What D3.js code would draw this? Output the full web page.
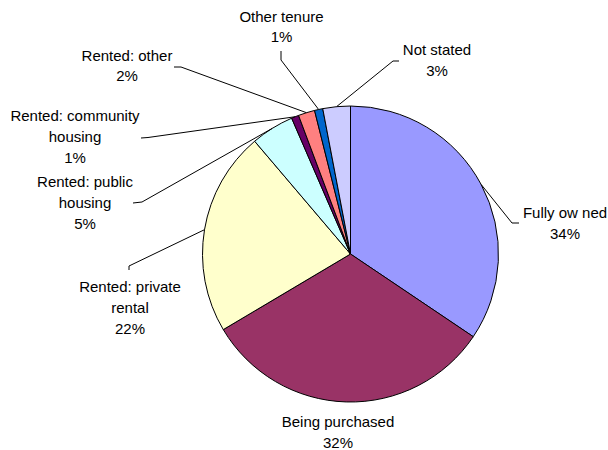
<!DOCTYPE html>
<html>
<head>
<meta charset="utf-8">
<script src="https://cdn.jsdelivr.net/npm/d3@7"></script>
<style>
  html, body { margin: 0; padding: 0; background: #fff; }
  svg { display: block; }
  text { font-family: "Liberation Sans", Arial, sans-serif; font-size: 15px; fill: #000; }
</style>
</head>
<body>
<svg id="chart" width="608" height="450"></svg>
<script>
// Housing tenure shares (%), clockwise from 12 o'clock
const categories = [
  "Fully owned", "Being purchased", "Rented: private rental", "Rented: public housing",
  "Rented: community housing", "Rented: other", "Other tenure", "Not stated"
];
const values = [34.4, 32.0, 22.3, 4.7, 0.8, 1.8, 0.9, 3.0];
const colors = ["#9999FF", "#993366", "#FFFFCC", "#CCFFFF", "#660066", "#FF8080", "#0066CC", "#CCCCFF"];

// Label text lines (category name wrapped as displayed)
const labelLines = [
  ["Fully ow ned"],
  ["Being purchased"],
  ["Rented: private", "rental"],
  ["Rented: public", "housing"],
  ["Rented: community", "housing"],
  ["Rented: other"],
  ["Other tenure"],
  ["Not stated"]
];

// Label placement: centre x, first baseline y
const labelPos = [
  [565, 218], [338, 427], [130, 292], [85, 187],
  [75, 121], [127, 60.5], [281.5, 21.5], [437, 55]
];
// Leader line: elbow point and end point near the label (null = no leader)
const leaderPts = [
  [[512, 223], [519, 223]],
  null,
  [[129, 266], [129, 270]],
  [[142, 202], [133, 203]],
  [[148, 137.5], [141, 138]],
  [[181, 67], [174, 67]],
  [[281, 60], [281, 51]],
  [[393, 61], [399, 61]]
];

const svg = d3.select("#chart");
const cx = 350.5, cy = 254, r = 148;
const lineH = 20.8;

const pie = d3.pie().sort(null).value(d => d)(values);
const arc = d3.arc().innerRadius(0).outerRadius(r);
const fmt = v => Math.round(v) + "%";

const g = svg.append("g").attr("transform", `translate(${cx},${cy})`);

g.selectAll("path.slice")
  .data(pie)
  .join("path")
  .attr("class", "slice")
  .attr("d", arc)
  .attr("fill", (d, i) => colors[i])
  .attr("stroke", "#000")
  .attr("stroke-width", 1)
  .attr("stroke-linejoin", "round");

// Leader lines from the slice's mid-angle on the rim
const leaders = svg.append("g").attr("fill", "none").attr("stroke", "#000").attr("stroke-width", 1);
pie.forEach((d, i) => {
  if (!leaderPts[i]) return;
  const a = (d.startAngle + d.endAngle) / 2;
  const start = [cx + r * Math.sin(a), cy - r * Math.cos(a)];
  leaders.append("path")
    .attr("d", d3.line()([start, leaderPts[i][0], leaderPts[i][1]]));
});

// Labels: category lines followed by the rounded percentage
const labels = svg.append("g").attr("text-anchor", "middle");
pie.forEach((d, i) => {
  const lines = labelLines[i].concat([fmt(values[i])]);
  const t = labels.append("text")
    .attr("x", labelPos[i][0])
    .attr("y", labelPos[i][1]);
  lines.forEach((s, k) => {
    t.append("tspan")
      .attr("x", labelPos[i][0])
      .attr("dy", k === 0 ? 0 : lineH)
      .text(s);
  });
});
</script>
</body>
</html>
